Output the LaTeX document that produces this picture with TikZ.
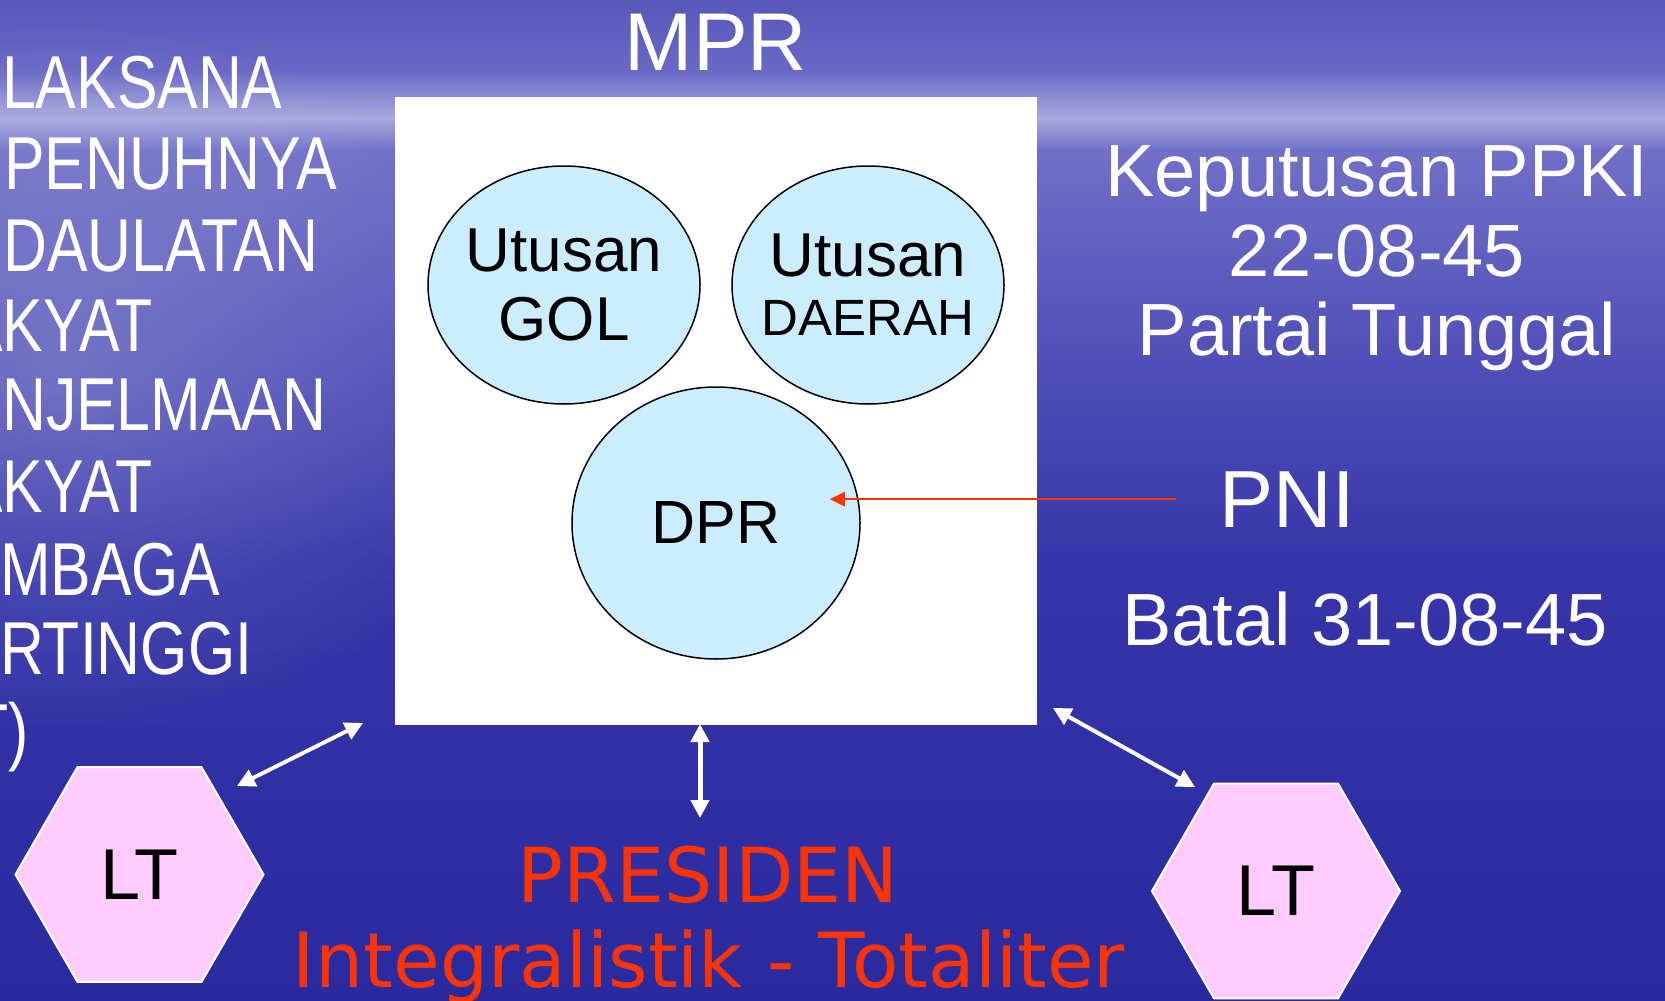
\documentclass[tikz,border=0pt]{standalone}
\usepackage{fontspec}
\setmainfont{Liberation Sans}
\newfontfamily\verdfont{DejaVu Sans}
\newfontfamily\narrowfont[FakeStretch=0.81]{Liberation Sans}
\usetikzlibrary{positioning,shapes.geometric,arrows.meta,fadings}
\tikzfading[name=softspot, inner color=transparent!0, outer color=transparent!100]
\definecolor{bgA}{RGB}{88,88,186}
\definecolor{bgB}{RGB}{104,104,198}
\definecolor{bgC}{RGB}{168,168,222}
\definecolor{bgD}{RGB}{112,112,200}
\definecolor{bgE}{RGB}{84,84,186}
\definecolor{bgF}{RGB}{54,54,170}
\definecolor{bgG}{RGB}{42,42,160}
\definecolor{skyfill}{RGB}{204,236,255}
\definecolor{pinkfill}{RGB}{255,204,255}
\definecolor{redtext}{RGB}{255,51,0}
\tikzset{
  ellbox/.style={ellipse, draw=black, line width=1.5pt, fill=skyfill, inner sep=0pt},
  elltext/.style={inner sep=0pt, align=center},
  hexbox/.style={regular polygon, regular polygon sides=6, draw=white, line width=2pt,
    fill=pinkfill, minimum size=248pt, inner sep=0pt, font=\fontsize{72}{72}\selectfont},
  whitearrow/.style={white, line width=4pt,
    {Triangle[length=18pt,width=18pt]}-{Triangle[length=18pt,width=18pt]}},
  redarrow/.style={redtext, line width=2.5pt, -{Triangle[length=15pt,width=14pt]}},
  lefttext/.style={white, inner sep=0pt, anchor=base west, font=\narrowfont\fontsize{75}{75}\selectfont},
  righttext/.style={white, inner sep=0pt, anchor=base, font=\fontsize{74}{74}\selectfont},
}
\begin{document}
\begin{tikzpicture}[x=1pt, y=-1pt]
        \useasboundingbox (0,0) rectangle (1665,1001);
        \clip (0,0) rectangle (1665,1001);
        %%Background
        \fill[top color=bgA, bottom color=bgB] (0,0) rectangle (1665,70);
        \fill[top color=bgB, bottom color=bgC] (0,70) rectangle (1665,118);
        \fill[top color=bgC, bottom color=bgD] (0,118) rectangle (1665,150);
        \fill[top color=bgD, bottom color=bgE] (0,150) rectangle (1665,330);
        \fill[top color=bgE, bottom color=bgF] (0,330) rectangle (1665,560);
        \fill[top color=bgF, bottom color=bgG] (0,560) rectangle (1665,1001);
        \fill[white, opacity=0.2, path fading=softspot] (60,380) ellipse (480 and 360);
        %%Left text
        \foreach \txt/\xx/\yy [count=\i] in {LAKSANA/2/108, PENUHNYA/4/189, DAULATAN/3/271,
            AKYAT/-38/351, NJELMAAN/2/430, AKYAT/-38/512, MBAGA/0/595, RTINGGI/0/674, T)/-29/756}
          \node[lefttext] (kiri\i) at (\xx,\yy) {\txt};
        %%MPR
        \node[fill=white, minimum width=642pt, minimum height=628pt, inner sep=0pt] (mprbox) at (716,411) {};
        \node[white, inner sep=0pt, font=\fontsize{82}{82}\selectfont, above=26pt of mprbox.north, anchor=base] (mpr) {MPR};
        \node[ellbox, minimum width=272pt, minimum height=238pt] (gol) at (564,285) {};
        \node[ellbox, minimum width=272pt, minimum height=238pt] (daerah) at (868,285) {};
        \node[ellbox, minimum width=288pt, minimum height=272pt] (dpr) at (716,523) {};
        \node[elltext, font=\fontsize{62}{69}\selectfont] (goltext) at (gol) {Utusan\\GOL};
        \node[elltext, font=\fontsize{62}{59}\selectfont] (daerahtext) at (daerah) {Utusan\\{\fontsize{51}{59}\selectfont DAERAH}};
        \node[elltext, font=\fontsize{61}{61}\selectfont] (dprtext) at (dpr) {DPR};
        %%Right text
        \node[righttext] (ppki1) at (1377,196) {Keputusan PPKI};
        \node[righttext] (ppki2) at (1377,276) {22-08-45};
        \node[righttext] (ppki3) at (1377,355) {Partai Tunggal};
        \node[righttext, font=\fontsize{81}{81}\selectfont] (pni) at (1287,527) {PNI};
        \node[righttext] (batal) at (1365,645) {Batal 31-08-45};
        \draw[redarrow] ([xshift=-43pt]pni.west) -- ([xshift=-31pt]dpr.east |- pni.west);
        %%Lembaga tinggi
        \node[hexbox] (lhex) at (139.5,874.5) {LT};
        \node[hexbox] (rhex) at (1276,891) {LT};
        \coordinate (la) at (237,786);
        \coordinate (lb) at (363,723);
        \coordinate (ma) at (700,724);
        \coordinate (mb) at (700,818);
        \coordinate (ra) at (1053,708);
        \coordinate (rb) at (1195,787);
        \draw[whitearrow] (la) -- (lb);
        \draw[whitearrow, line width=5pt] (ma) -- (mb);
        \draw[whitearrow] (ra) -- (rb);
        %%Presiden
        \node[redtext, inner sep=0pt, anchor=base, font=\verdfont\fontsize{76}{76}\selectfont] (pres) at (708,902) {PRESIDEN};
        \node[redtext, inner sep=0pt, anchor=base, font=\verdfont\fontsize{76}{76}\selectfont] (integ) at (709,987) {Integralistik - Totaliter};
    \end{tikzpicture}
\end{document}
